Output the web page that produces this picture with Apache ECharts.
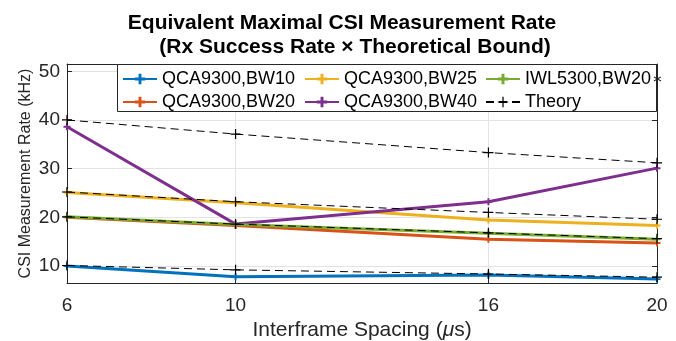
<!DOCTYPE html>
<html>
<head>
<meta charset="utf-8">
<script src="https://cdn.jsdelivr.net/npm/echarts@6/dist/echarts.min.js"></script>
<style>html,body{margin:0;padding:0;background:#fff}#c{width:676px;height:341px}</style>
</head>
<body>
<div id="c"></div>
<script>
var xValues = [6, 10, 16, 20];
var xTicks = [6, 10, 16, 20];
var yTicks = [10, 20, 30, 40, 50];
var bw10 = [10.0, 7.8, 8.15, 7.3];
var bw20 = [20.0, 18.3, 15.5, 14.7];
var bw25 = [25.1, 23.0, 19.45, 18.3];
var bw40 = [38.6, 18.6, 23.2, 30.1];
var iwl = [20.1, 18.5, 16.7, 15.5];
var theory10 = [10.1, 9.2, 8.35, 7.7];
var theory20 = [20.1, 18.6, 16.8, 15.6];
var theory25 = [25.2, 23.2, 21.0, 19.6];
var theory40 = [40.0, 37.1, 33.3, 31.2];

var FONT = 'Liberation Sans, Arial, sans-serif';
var plusThick = 'path://M3.6,0H6.4V3.6H10V6.4H6.4V10H3.6V6.4H0V3.6H3.6Z';
var plusThin = 'path://M4.4,0H5.6V4.4H10V5.6H5.6V10H4.4V5.6H0V4.4H4.4Z';

function pairs(ys) { return xValues.map(function (x, i) { return [x, ys[i]]; }); }

function dataSeries(name, ys, color) {
  return {
    name: name, type: 'line', data: pairs(ys),
    symbol: plusThick, symbolSize: 7, showSymbol: true,
    lineStyle: { color: color, width: 3 },
    itemStyle: { color: color },
    z: 3, animation: false
  };
}
function theorySeries(ys) {
  return {
    name: 'Theory', type: 'line', data: pairs(ys),
    symbol: plusThin, symbolSize: 10,
    lineStyle: { color: '#000', width: 1, type: [8, 5] },
    itemStyle: { color: '#000' },
    z: 4, animation: false
  };
}

var C = { b: '#0072BD', o: '#D95319', y: '#EDB120', p: '#7E2F8E', g: '#77AC30' };
var legendText = {
  fontSize: 18, fontFamily: FONT, color: '#000', lineHeight: 13,
  rich: {
    a: { fontSize: 18, fontFamily: FONT, color: '#000' },
    s: { fontSize: 13, fontFamily: FONT, color: '#222', padding: [0, 0, 0, 1] }
  }
};
function legend(left, names) {
  return {
    left: left, top: 70, orient: 'vertical', itemWidth: 34, itemHeight: 13, itemGap: 5,
    padding: 0, data: names, textStyle: legendText, z: 20,
    selectedMode: false,
    formatter: function (n) {
      if (n.indexOf('\u2217') >= 0) { return '{a|' + n.replace('\u2217', '') + '}{s|\u2217}'; }
      return n;
    }
  };
}

var axisColor = '#262626';
var chart = echarts.init(document.getElementById('c'), null, { renderer: 'canvas' });
chart.setOption({
  animation: false,
  backgroundColor: '#fff',
  title: [
    { text: 'Equivalent Maximal CSI Measurement Rate', left: 337, textAlign: 'center', top: 8,
      textStyle: { fontSize: 21, fontWeight: 'bold', fontFamily: FONT, color: '#000' } },
    { text: '(Rx Success Rate \u00d7 Theoretical Bound)', left: 350, textAlign: 'center', top: 32,
      textStyle: { fontSize: 21, fontWeight: 'bold', fontFamily: FONT, color: '#000' } }
  ],
  grid: { left: 67, right: 19, top: 64, bottom: 58, containLabel: false, outerBoundsMode: 'none' },
  graphic: [{
    type: 'rect', shape: { x: 117.5, y: 64.5, width: 539, height: 47 },
    style: { fill: '#fff', stroke: axisColor, lineWidth: 1 }, z: 10
  }],
  legend: [
    legend(122, ['QCA9300,BW10', 'QCA9300,BW20']),
    legend(304, ['QCA9300,BW25', 'QCA9300,BW40']),
    legend(485, ['IWL5300,BW20\u2217', 'Theory'])
  ],
  xAxis: [{
    type: 'value', min: 6, max: 20, position: 'bottom',
    name: 'Interframe Spacing ({i|\u03bc}s)', nameLocation: 'middle', nameGap: 37, nameMoveOverlap: false,
    nameTextStyle: { fontSize: 21, fontFamily: FONT, color: axisColor,
      rich: { i: { fontSize: 21, fontFamily: FONT, fontStyle: 'italic', color: axisColor } } },
    axisLine: { show: true, lineStyle: { color: axisColor, width: 1 } },
    axisTick: { show: true, inside: true, length: 5, customValues: xTicks, lineStyle: { color: axisColor } },
    axisLabel: { customValues: xTicks, fontSize: 19, fontFamily: FONT, color: axisColor, margin: 13 },
    splitLine: { show: true, lineStyle: { color: '#e3e3e3', width: 1 } }
  }, {
    type: 'value', min: 6, max: 20, position: 'top',
    axisLine: { show: true, onZero: false, lineStyle: { color: axisColor, width: 1 } },
    axisTick: { show: true, inside: true, length: 5, customValues: xTicks, lineStyle: { color: axisColor } },
    axisLabel: { show: false, customValues: xTicks },
    splitLine: { show: false }
  }],
  yAxis: [{
    type: 'value', min: 6.5, max: 51.5, position: 'left',
    name: 'CSI Measurement Rate (kHz)', nameLocation: 'middle', nameGap: 33, nameMoveOverlap: false,
    nameTextStyle: { fontSize: 16, fontFamily: FONT, color: axisColor },
    axisLine: { show: true, onZero: false, lineStyle: { color: axisColor, width: 1 } },
    axisTick: { show: true, inside: true, length: 5, customValues: yTicks, lineStyle: { color: axisColor } },
    axisLabel: { customValues: yTicks, fontSize: 19, fontFamily: FONT, color: axisColor, margin: 7 },
    splitLine: { show: true, lineStyle: { color: '#e3e3e3', width: 1 } }
  }, {
    type: 'value', min: 6.5, max: 51.5, position: 'right',
    axisLine: { show: true, onZero: false, lineStyle: { color: axisColor, width: 1 } },
    axisTick: { show: true, inside: true, length: 5, customValues: yTicks, lineStyle: { color: axisColor } },
    axisLabel: { show: false, customValues: yTicks },
    splitLine: { show: false }
  }],
  series: [
    dataSeries('QCA9300,BW10', bw10, C.b),
    dataSeries('QCA9300,BW20', bw20, C.o),
    dataSeries('QCA9300,BW25', bw25, C.y),
    dataSeries('QCA9300,BW40', bw40, C.p),
    dataSeries('IWL5300,BW20\u2217', iwl, C.g),
    theorySeries(theory10),
    theorySeries(theory20),
    theorySeries(theory25),
    theorySeries(theory40)
  ]
});
</script>
</body>
</html>
